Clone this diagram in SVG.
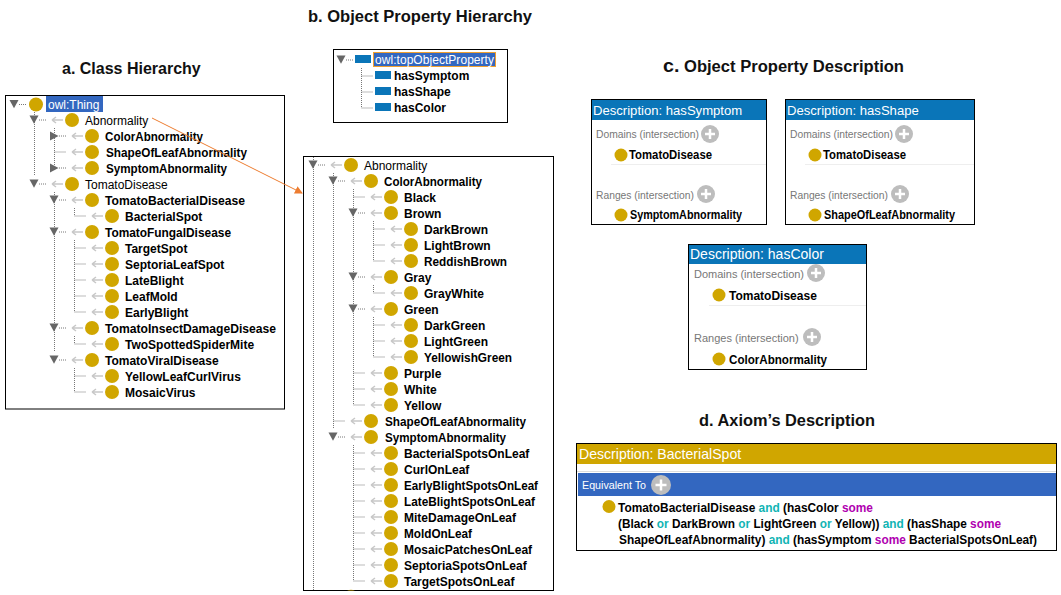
<svg xmlns="http://www.w3.org/2000/svg" width="1061" height="595" viewBox="0 0 1061 595">
<style>
text{font-family:"Liberation Sans",Arial,sans-serif;fill:#000}
.title{font-size:16px;font-weight:700;fill:#111}
.b{font-size:12px;font-weight:700}
.n{font-size:12px}
.w{fill:#fff}
.panel{fill:#fff;stroke:#000;stroke-width:1}
.dot{fill:none;stroke:#777;stroke-width:1;stroke-dasharray:1 1}
.head{font-size:13.100px;fill:#fff}
.sec{font-size:10.300px;fill:#777}
.sec2{font-size:11px;fill:#777}
.kw1{fill:#10b4b4}
.kw2{fill:#b000b0}
.ball{fill:#d0a600}
.prop{fill:#0a75b8}
</style>
<defs>
<g id="down"><path d="M-4.500,-4.500H4.500L0,3.800Z" fill="#666"/><path d="M5,0H12" class="dot"/></g>
<g id="right"><path d="M-5,-4.500V4.500L3.500,0Z" fill="#666"/><path d="M4,0H12" class="dot"/></g>
<g id="cls"><path d="M-20,0H-9M-20,0l4,-3M-20,0l4,3" fill="none" stroke="#c8c8c8" stroke-width="1.500"/><circle r="7" class="ball"/></g>
<g id="plus"><circle r="9" fill="#bdbdbd"/><path d="M-5,0H5M0,-5V5" stroke="#fff" stroke-width="2.500"/></g>
<marker id="ah" markerWidth="10" markerHeight="10" refX="7" refY="4" orient="auto" markerUnits="userSpaceOnUse"><path d="M0,0L8,4L0,8Z" fill="#ed7d31"/></marker>
</defs>

<g id="titles">
<text class="title" x="62" y="74">a. Class Hierarchy</text>
<text class="title" x="308" y="22" textLength="224" lengthAdjust="spacingAndGlyphs">b. Object Property Hierarchy</text>
<text class="title" x="663" y="72" textLength="241" lengthAdjust="spacingAndGlyphs"><tspan font-size="19">c.</tspan> Object Property Description</text>
<text class="title" x="699" y="426" textLength="176" lengthAdjust="spacingAndGlyphs">d. Axiom’s Description</text>
</g>

<g id="panel-a">
<rect class="panel" x="5.500" y="95.500" width="279" height="313.500"/>
<path class="dot" d="M34.500,112V176M54.500,128V168M54.500,192V352M74.500,208V216H86M74.500,240V312M74.500,248H86M74.500,264H86M74.500,280H86M74.500,296H86M74.500,312H86M74.500,336V344H86M74.500,368V392M74.500,376H86M74.500,392H86M54.500,152H66"/>
<g id="a-thing"><use href="#down" x="14" y="104.500"/><circle cx="36" cy="104.500" r="7" class="ball"/><rect x="46" y="96" width="57" height="16" fill="#3367c0"/><text x="48" y="109" class="n w" style="fill:#fff">owl:Thing</text></g>
<g id="a-abnormality"><use href="#down" x="34" y="120"/><use href="#cls" x="72" y="120"/><text x="85" y="124.500" class="n">Abnormality</text></g>
<g id="a-color"><use href="#right" x="55" y="136"/><use href="#cls" x="92" y="136"/><text x="105" y="140.500" class="b" textLength="98" lengthAdjust="spacingAndGlyphs">ColorAbnormality</text></g>
<g id="a-shape"><use href="#cls" x="92" y="152"/><text x="106" y="156.500" class="b" textLength="141" lengthAdjust="spacingAndGlyphs">ShapeOfLeafAbnormality</text></g>
<g id="a-symptom"><use href="#right" x="55" y="168"/><use href="#cls" x="92" y="168"/><text x="106" y="172.500" class="b" textLength="121" lengthAdjust="spacingAndGlyphs">SymptomAbnormality</text></g>
<g id="a-tomato"><use href="#down" x="34" y="184"/><use href="#cls" x="72" y="184"/><text x="85" y="188.500" class="n">TomatoDisease</text></g>
<g id="a-bact"><use href="#down" x="54" y="200"/><use href="#cls" x="92" y="200"/><text x="105" y="204.500" class="b" textLength="140" lengthAdjust="spacingAndGlyphs">TomatoBacterialDisease</text></g>
<g id="a-bspot"><use href="#cls" x="112" y="216"/><text x="125" y="220.500" class="b">BacterialSpot</text></g>
<g id="a-fungal"><use href="#down" x="54" y="232"/><use href="#cls" x="92" y="232"/><text x="105" y="236.500" class="b" textLength="126" lengthAdjust="spacingAndGlyphs">TomatoFungalDisease</text></g>
<g id="a-target"><use href="#cls" x="112" y="248"/><text x="125" y="252.500" class="b">TargetSpot</text></g>
<g id="a-septoria"><use href="#cls" x="112" y="264"/><text x="125" y="268.500" class="b">SeptoriaLeafSpot</text></g>
<g id="a-late"><use href="#cls" x="112" y="280"/><text x="125" y="284.500" class="b">LateBlight</text></g>
<g id="a-mold"><use href="#cls" x="112" y="296"/><text x="125" y="300.500" class="b">LeafMold</text></g>
<g id="a-early"><use href="#cls" x="112" y="312"/><text x="125" y="316.500" class="b">EarlyBlight</text></g>
<g id="a-insect"><use href="#down" x="54" y="328"/><use href="#cls" x="92" y="328"/><text x="105" y="332.500" class="b" textLength="171" lengthAdjust="spacingAndGlyphs">TomatoInsectDamageDisease</text></g>
<g id="a-mite"><use href="#cls" x="112" y="344"/><text x="125" y="348.500" class="b">TwoSpottedSpiderMite</text></g>
<g id="a-viral"><use href="#down" x="54" y="360"/><use href="#cls" x="92" y="360"/><text x="105" y="364.500" class="b">TomatoViralDisease</text></g>
<g id="a-curl"><use href="#cls" x="112" y="376"/><text x="125" y="380.500" class="b">YellowLeafCurlVirus</text></g>
<g id="a-mosaic"><use href="#cls" x="112" y="392"/><text x="125" y="396.500" class="b">MosaicVirus</text></g>
</g>

<g id="panel-b">
<rect class="panel" x="333.500" y="49.500" width="174" height="73"/>
<path class="dot" d="M361.500,68V108H373M361.500,76H373M361.500,92H373"/>
<g id="b-top"><use href="#down" x="341" y="60"/><rect x="355" y="55" width="16" height="8" class="prop"/><rect x="373.500" y="52.500" width="122" height="14" fill="#3367c0" stroke="#f0a030"/><text x="375" y="64" class="n" style="fill:#fff" textLength="119">owl:topObjectProperty</text></g>
<g id="b-symptom"><rect x="375" y="71" width="16" height="8" class="prop"/><text x="394" y="80" class="b">hasSymptom</text></g>
<g id="b-shape"><rect x="375" y="87" width="16" height="8" class="prop"/><text x="394" y="96" class="b">hasShape</text></g>
<g id="b-color"><rect x="375" y="103" width="16" height="8" class="prop"/><text x="394" y="112" class="b">hasColor</text></g>
</g>

<g id="panel-hier">
<rect class="panel" x="303.500" y="156.500" width="250" height="434"/>
<path class="ball" d="M347,590.500Q351,589 355,590.500Z"/>
<g transform="translate(0,-1)">
<path class="dot" d="M313.500,158V591M333.500,174V430M353.500,190V406M373.500,222V262H385M373.500,230H385M373.500,246H385M373.500,286V294H385M373.500,318V358H385M373.500,326H385M373.500,342H385M353.500,198H365M353.500,374H365M353.500,390H365M353.500,406H365M333.500,422H345M353.500,446V582H365M353.500,454H365M353.500,470H365M353.500,486H365M353.500,502H365M353.500,518H365M353.500,534H365M353.500,550H365M353.500,566H365"/>
<g id="h-abn"><use href="#down" x="313" y="166"/><use href="#cls" x="351" y="166"/><text x="364" y="170.500" class="n">Abnormality</text></g>
<g id="h-color"><use href="#down" x="333" y="182"/><use href="#cls" x="371" y="182"/><text x="384" y="186.500" class="b" textLength="98" lengthAdjust="spacingAndGlyphs">ColorAbnormality</text></g>
<g id="h-black"><use href="#cls" x="391" y="198"/><text x="404" y="202.500" class="b">Black</text></g>
<g id="h-brown"><use href="#down" x="353" y="214"/><use href="#cls" x="391" y="214"/><text x="404" y="218.500" class="b">Brown</text></g>
<g id="h-darkbrown"><use href="#cls" x="411" y="230"/><text x="424" y="234.500" class="b">DarkBrown</text></g>
<g id="h-lightbrown"><use href="#cls" x="411" y="246"/><text x="424" y="250.500" class="b">LightBrown</text></g>
<g id="h-reddish"><use href="#cls" x="411" y="262"/><text x="424" y="266.500" class="b" textLength="83" lengthAdjust="spacingAndGlyphs">ReddishBrown</text></g>
<g id="h-gray"><use href="#down" x="353" y="278"/><use href="#cls" x="391" y="278"/><text x="404" y="282.500" class="b">Gray</text></g>
<g id="h-graywhite"><use href="#cls" x="411" y="294"/><text x="424" y="298.500" class="b">GrayWhite</text></g>
<g id="h-green"><use href="#down" x="353" y="310"/><use href="#cls" x="391" y="310"/><text x="404" y="314.500" class="b">Green</text></g>
<g id="h-darkgreen"><use href="#cls" x="411" y="326"/><text x="424" y="330.500" class="b">DarkGreen</text></g>
<g id="h-lightgreen"><use href="#cls" x="411" y="342"/><text x="424" y="346.500" class="b">LightGreen</text></g>
<g id="h-yellowish"><use href="#cls" x="411" y="358"/><text x="424" y="362.500" class="b" textLength="88" lengthAdjust="spacingAndGlyphs">YellowishGreen</text></g>
<g id="h-purple"><use href="#cls" x="391" y="374"/><text x="404" y="378.500" class="b">Purple</text></g>
<g id="h-white"><use href="#cls" x="391" y="390"/><text x="404" y="394.500" class="b">White</text></g>
<g id="h-yellow"><use href="#cls" x="391" y="406"/><text x="404" y="410.500" class="b">Yellow</text></g>
<g id="h-shape"><use href="#cls" x="371" y="422"/><text x="385" y="426.500" class="b" textLength="141" lengthAdjust="spacingAndGlyphs">ShapeOfLeafAbnormality</text></g>
<g id="h-symptom"><use href="#down" x="333" y="438"/><use href="#cls" x="371" y="438"/><text x="385" y="442.500" class="b" textLength="121" lengthAdjust="spacingAndGlyphs">SymptomAbnormality</text></g>
<g id="h-s1"><use href="#cls" x="391" y="454"/><text x="404" y="458.500" class="b">BacterialSpotsOnLeaf</text></g>
<g id="h-s2"><use href="#cls" x="391" y="470"/><text x="404" y="474.500" class="b">CurlOnLeaf</text></g>
<g id="h-s3"><use href="#cls" x="391" y="486"/><text x="404" y="490.500" class="b" textLength="134" lengthAdjust="spacingAndGlyphs">EarlyBlightSpotsOnLeaf</text></g>
<g id="h-s4"><use href="#cls" x="391" y="502"/><text x="404" y="506.500" class="b" textLength="131" lengthAdjust="spacingAndGlyphs">LateBlightSpotsOnLeaf</text></g>
<g id="h-s5"><use href="#cls" x="391" y="518"/><text x="404" y="522.500" class="b">MiteDamageOnLeaf</text></g>
<g id="h-s6"><use href="#cls" x="391" y="534"/><text x="404" y="538.500" class="b" textLength="68" lengthAdjust="spacingAndGlyphs">MoldOnLeaf</text></g>
<g id="h-s7"><use href="#cls" x="391" y="550"/><text x="404" y="554.500" class="b">MosaicPatchesOnLeaf</text></g>
<g id="h-s8"><use href="#cls" x="391" y="566"/><text x="404" y="570.500" class="b">SeptoriaSpotsOnLeaf</text></g>
<g id="h-s9"><use href="#cls" x="391" y="582"/><text x="404" y="586.500" class="b">TargetSpotsOnLeaf</text></g>
</g>
</g>

<g id="desc-symptom">
<rect class="panel" x="591.500" y="99.500" width="175" height="125"/>
<rect x="592" y="100" width="174" height="20" class="prop"/>
<text x="593" y="115" class="head">Description: hasSymptom</text>
<text x="596" y="138" class="sec">Domains (intersection)</text><use href="#plus" x="710" y="134"/>
<circle cx="621" cy="155" r="6.500" class="ball"/><text x="629" y="159" class="b" textLength="83" lengthAdjust="spacingAndGlyphs">TomatoDisease</text>
<path d="M611,164.500H766" stroke="#eee"/>
<text x="596" y="199" class="sec">Ranges (intersection)</text><use href="#plus" x="706" y="194"/>
<circle cx="621" cy="215" r="6.500" class="ball"/><text x="630" y="219" class="b" textLength="112" lengthAdjust="spacingAndGlyphs">SymptomAbnormality</text>
</g>

<g id="desc-shape">
<rect class="panel" x="785.500" y="99.500" width="189" height="125"/>
<rect x="786" y="100" width="188" height="20" class="prop"/>
<text x="787" y="115" class="head">Description: hasShape</text>
<text x="790" y="138" class="sec">Domains (intersection)</text><use href="#plus" x="904" y="134"/>
<circle cx="815" cy="155" r="6.500" class="ball"/><text x="823" y="159" class="b" textLength="83" lengthAdjust="spacingAndGlyphs">TomatoDisease</text>
<path d="M805,164.500H974" stroke="#eee"/>
<text x="790" y="199" class="sec">Ranges (intersection)</text><use href="#plus" x="900" y="194"/>
<circle cx="815" cy="215" r="6.500" class="ball"/><text x="824" y="219" class="b" textLength="131" lengthAdjust="spacingAndGlyphs">ShapeOfLeafAbnormality</text>
</g>

<g id="desc-color">
<rect class="panel" x="688.500" y="244.500" width="178" height="125"/>
<rect x="689" y="245" width="177" height="19" class="prop"/>
<text x="690" y="259" class="head" style="font-size:14px">Description: hasColor</text>
<text x="694" y="278" class="sec2">Domains (intersection)</text><use href="#plus" x="816" y="273"/>
<circle cx="719" cy="295" r="6.500" class="ball"/><text x="729" y="300" class="b">TomatoDisease</text>
<path d="M709,305.500H866" stroke="#eee"/>
<text x="694" y="342" class="sec2">Ranges (intersection)</text><use href="#plus" x="812" y="337"/>
<circle cx="719" cy="359" r="6.500" class="ball"/><text x="729" y="364" class="b" textLength="98" lengthAdjust="spacingAndGlyphs">ColorAbnormality</text>
</g>

<g id="desc-axiom">
<rect class="panel" x="576.500" y="443.500" width="480" height="107"/>
<rect x="577" y="444" width="479" height="20" fill="#d0a600"/>
<text x="579" y="459" class="head" style="font-size:14.100px">Description: BacterialSpot</text>
<path d="M577,471.500H1056" stroke="#ddd"/>
<rect x="578" y="473" width="478" height="23" fill="#3367c0"/>
<text x="582" y="489" class="n" style="fill:#fff;font-size:11px" textLength="64" lengthAdjust="spacingAndGlyphs">Equivalent To</text>
<g transform="translate(661,485)"><circle r="10" fill="#bdbdbd"/><path d="M-5.500,0H5.500M0,-5.500V5.500" stroke="#fff" stroke-width="2.500"/></g>
<circle cx="609" cy="506.500" r="6.500" class="ball"/>
<text x="618" y="512" class="b" textLength="255" lengthAdjust="spacingAndGlyphs">TomatoBacterialDisease <tspan class="kw1">and</tspan> (hasColor <tspan class="kw2">some</tspan></text>
<text x="618" y="528" class="b" textLength="383" lengthAdjust="spacingAndGlyphs">(Black <tspan class="kw1">or</tspan> DarkBrown <tspan class="kw1">or</tspan> LightGreen <tspan class="kw1">or</tspan> Yellow)) <tspan class="kw1">and</tspan> (hasShape <tspan class="kw2">some</tspan></text>
<text x="619" y="544" class="b" textLength="418" lengthAdjust="spacingAndGlyphs">ShapeOfLeafAbnormality) <tspan class="kw1">and</tspan> (hasSymptom <tspan class="kw2">some</tspan> BacterialSpotsOnLeaf)</text>
</g>

<g id="connectors">
<path d="M152,118L302,193" fill="none" stroke="#ed7d31" stroke-width="1" marker-end="url(#ah)"/>
</g>
</svg>
